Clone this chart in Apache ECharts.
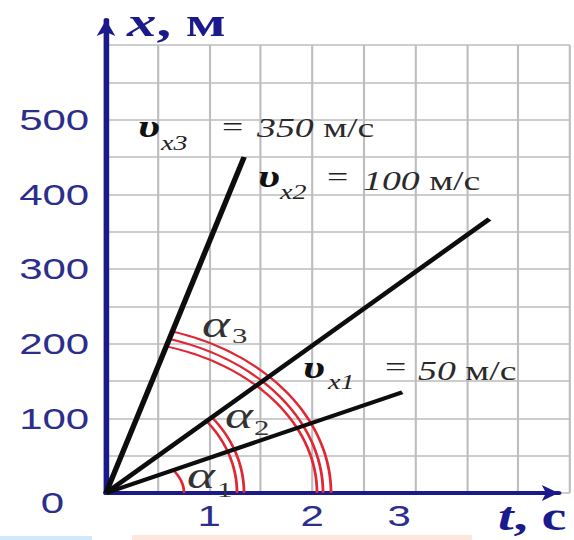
<!DOCTYPE html>
<html>
<head>
<meta charset="utf-8">
<script src="https://cdn.jsdelivr.net/npm/echarts@6/dist/echarts.min.js"></script>
<style>
  html, body { margin: 0; padding: 0; background: #fff; overflow: hidden; }
  /* the source picture is stretched sideways, so the chart is drawn narrow and widened */
  #main { width: 410px; height: 540px; transform: scaleX(1.4); transform-origin: 0 0; }
</style>
</head>
<body>
<div id="main"></div>
<script type="text/javascript">
    var STRETCH = 1.4;

    // data
    var lineNames = ['υx3', 'υx2', 'υx1'];
    var speedLabels = ['350', '100', '50'];      // м/с, as written
    var subscripts = ['x3', 'x2', 'x1'];
    var endTimes = [1.34, 3.72, 2.875];          // t, с
    var endPositions = [450, 367, 135];          // x, м
    var angleIndices = ['3', '2', '1'];
    var xTickLabels = [1, 2, 3];
    var yTickLabels = [0, 100, 200, 300, 400, 500];

    // arc sizes in final pixels [rx, ry], one list per line
    var arcSizes = [
        [[211, 153], [217, 161], [225, 169]],
        [[131, 112], [138, 118]],
        [[78, 45]]
    ];

    var navy = '#1a1a8c';
    var tickColor = '#2b2e8c';

    function renderArcs(params, api) {
        var o = api.coord([0, 0]);
        var e = api.coord([api.value(0), api.value(1)]);
        var phi = Math.atan2(o[1] - e[1], e[0] - o[0]);
        var children = arcSizes[params.dataIndex].map(function (r) {
            var rx = r[0] / STRETCH, ry = r[1];
            var end = Math.atan2(rx * Math.sin(phi), ry * Math.cos(phi));
            var pts = [];
            for (var i = 0; i <= 48; i++) {
                var a = end * i / 48;
                pts.push([o[0] + rx * Math.cos(a), o[1] - ry * Math.sin(a)]);
            }
            return {
                type: 'polyline',
                shape: {points: pts},
                style: {stroke: '#e02834', lineWidth: 2, fill: null}
            };
        });
        return {type: 'group', children: children};
    }

    // text placed by its left edge (final px) and baseline
    function txt(left, base, text, font, size, color, rich) {
        var el = {
            type: 'text',
            x: left / STRETCH,
            y: base - 0.335 * size,
            z: 10,
            style: {
                text: text,
                font: font + ' ' + size + 'px "Liberation Serif", serif',
                fill: color,
                verticalAlign: 'middle',
                align: 'left'
            }
        };
        if (rich) el.style.rich = rich;
        return el;
    }

    function speedRich(size) {
        return {
            n: {fontStyle: 'italic', fontSize: size, fontFamily: 'Liberation Serif', color: '#2a2a2a'},
            u: {fontSize: size, fontFamily: 'Liberation Serif', color: '#2a2a2a'}
        };
    }

    var labelPlaces = [
        // [υ left, υ base, sub left, sub base, '=' left, '=' base, value left, value base]
        [138, 137, 161, 150, 222, 136, 257, 137],
        [258, 187, 280, 199, 327, 186, 363, 190],
        [303, 378, 328, 389, 385, 376, 418, 380]
    ];
    var anglePlaces = [
        [202, 337, 232, 343],
        [225, 428, 254, 435],
        [187, 488, 217, 497]
    ];

    var graphics = [];
    lineNames.forEach(function (n, i) {
        var p = labelPlaces[i];
        graphics.push(txt(p[0], p[1], 'υ', 'italic bold', 32, '#111'));
        graphics.push(txt(p[2], p[3], subscripts[i], 'italic', 20, '#222'));
        graphics.push(txt(p[4], p[5], '=', 'normal', 27, '#222'));
        graphics.push(txt(p[6], p[7], '{n|' + speedLabels[i] + '} {u|м/с}', 'normal', 27, '#2a2a2a', speedRich(27)));
        var a = anglePlaces[i];
        graphics.push(txt(a[0], a[1], 'α', 'italic', 38, '#333'));
        graphics.push(txt(a[2], a[3], angleIndices[i], 'normal', 22, '#333'));
    });
    function nameRich(size) {
        return {
            i: {fontStyle: 'italic', fontWeight: 'bold', fontSize: size, fontFamily: 'Liberation Serif', color: navy},
            b: {fontWeight: 'bold', fontSize: size, fontFamily: 'Liberation Serif', color: navy}
        };
    }
    graphics.push(txt(127, 36, '{i|x}{b|, м}', 'bold', 42, navy, nameRich(42)));
    graphics.push(txt(498, 530, '{i|t}{b|, с}', 'bold', 40, navy, nameRich(40)));
    // coloured strips along the bottom edge of the picture
    graphics.push({type: 'rect', shape: {x: 0, y: 536, width: 92 / STRETCH, height: 4}, style: {fill: '#d3e8f8'}, z: 0});
    graphics.push({type: 'rect', shape: {x: 132 / STRETCH, y: 535, width: 340 / STRETCH, height: 5}, style: {fill: '#fde7da'}, z: 0});

    var series = lineNames.map(function (n, i) {
        return {
            name: n,
            type: 'line',
            xAxisIndex: 0,
            yAxisIndex: 0,
            symbol: 'none',
            z: 5,
            lineStyle: {color: '#0d0d0d', width: 4},
            data: [[0, 0], [endTimes[i], endPositions[i]]]
        };
    });
    series.push({
        type: 'custom',
        xAxisIndex: 0,
        yAxisIndex: 0,
        z: 3,
        clip: false,
        renderItem: renderArcs,
        data: endTimes.map(function (t, i) { return [t, endPositions[i]]; })
    });

    var myChart = echarts.init(document.getElementById('main'), null, {renderer: 'svg'});
    var option = {
        backgroundColor: '#ffffff',
        animation: false,
        grid: [
            {left: 106 / STRETCH, right: 0, top: 45, bottom: 47},
            {left: 106 / STRETCH, right: 11, top: 20, bottom: 47}
        ],
        xAxis: [
            {
                type: 'value', gridIndex: 0, min: 0, max: 4.5, interval: 0.5,
                axisLine: {show: false}, axisTick: {show: false},
                splitLine: {show: true, lineStyle: {color: '#bdbdbd', width: 1.5}},
                axisLabel: {
                    margin: 8,
                    fontFamily: 'Liberation Sans', fontSize: 30, color: tickColor,
                    formatter: function (v) {
                        for (var k = 0; k < xTickLabels.length; k++) {
                            if (Math.abs(v - xTickLabels[k]) < 1e-6) {
                                return k === xTickLabels.length - 1 ? '{t|' + xTickLabels[k] + '}' : String(xTickLabels[k]);
                            }
                        }
                        return '';
                    },
                    rich: {t: {fontFamily: 'Liberation Sans', fontSize: 30, color: tickColor, padding: [0, 23, 0, 0]}}
                }
            },
            {
                type: 'value', gridIndex: 1, min: 0, max: 1,
                axisLine: {show: true, symbol: ['none', 'arrow'], symbolSize: [12, 12], lineStyle: {color: navy, width: 4}},
                axisTick: {show: false}, axisLabel: {show: false}, splitLine: {show: false}
            }
        ],
        yAxis: [
            {
                type: 'value', gridIndex: 0, min: 0, max: 600, interval: 50,
                axisLine: {show: false}, axisTick: {show: false},
                splitLine: {show: true, lineStyle: {color: '#bdbdbd', width: 1.5}},
                axisLabel: {
                    margin: 12,
                    fontFamily: 'Liberation Sans', fontSize: 30, color: tickColor,
                    formatter: function (v) {
                        if (yTickLabels.indexOf(v) < 0) return '';
                        return v === 0 ? '{z|0}' : String(v);
                    },
                    rich: {z: {fontFamily: 'Liberation Sans', fontSize: 30, color: tickColor, padding: [20, 18, 0, 0]}}
                }
            },
            {
                type: 'value', gridIndex: 1, min: 0, max: 1,
                axisLine: {show: true, symbol: ['none', 'arrow'], symbolSize: [10, 16], lineStyle: {color: navy, width: 4}},
                axisTick: {show: false}, axisLabel: {show: false}, splitLine: {show: false}
            }
        ],
        graphic: graphics,
        series: series
    };

    if (option && typeof option === "object") {
        myChart.setOption(option, true);
    }
</script>
</body>
</html>
